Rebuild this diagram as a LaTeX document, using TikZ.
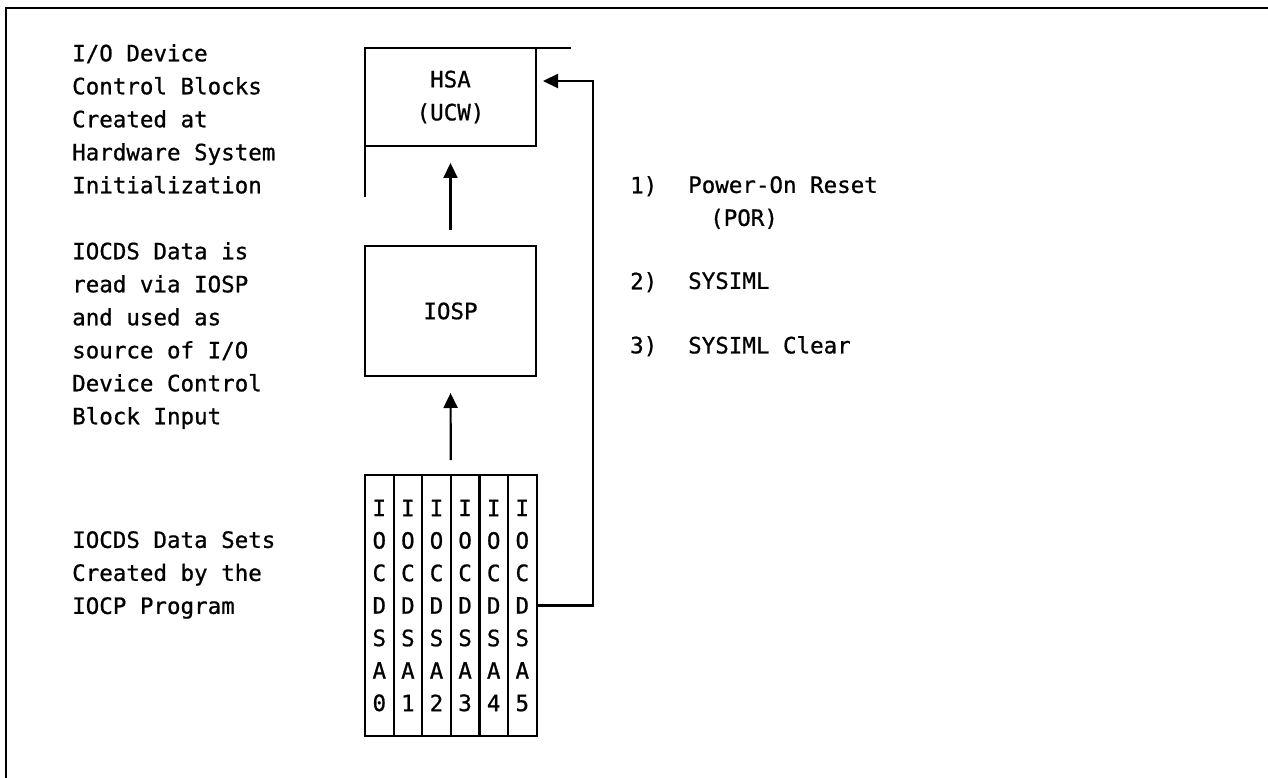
\documentclass[tikz,border=0pt]{standalone}
\usepackage{fontspec}
\newfontfamily\ibmfont[FakeBold=0.8]{DejaVu Sans Mono}
\usetikzlibrary{arrows.meta,calc}

\begin{document}
\begin{tikzpicture}[x=1pt, y=-1pt,
    every node/.style={font=\ibmfont\fontsize{22.5}{33}\selectfont},
    txt/.style={anchor=north west, inner sep=0pt, align=left},
    unitbox/.style={rectangle, draw, line width=2.2pt, minimum width=171pt,
                 inner sep=0pt, outer sep=0pt, align=center},
    dsbox/.style={rectangle, draw, line width=2.2pt, minimum width=28.6pt,
                 minimum height=261pt, inner sep=0pt, outer sep=0pt, align=center,
                 font=\ibmfont\fontsize{22.5}{32.5}\selectfont},
    thinline/.style={line width=2.2pt},
    arr/.style={-{Triangle[length=15pt,width=14pt]}, line width=2.2pt}
]
\fill[white] (0,0) rectangle (1268,778);
\useasboundingbox (0,0) rectangle (1268,778);
\draw[line width=2.6pt] (6,778) -- (6,8) -- (1268,8);

\node[unitbox, minimum height=98pt]  (hsa)  at (450.5,97)  {HSA\\(UCW)};
\node[unitbox, minimum height=130pt] (iosp) at (450.5,311) {IOSP};
\foreach \i in {0,...,5}
    \node[dsbox] (ds\i) at ({379.3+28.6*\i},605.5) {I\\O\\C\\D\\S\\A\\\i};

\coordinate (hsatop)  at (571,48);
\coordinate (hsaleft) at (365,197);
\draw[thinline] (hsa.north east) -- (hsatop);
\draw[thinline] (hsa.south west) -- (hsaleft);

\draw[arr, shorten <=16pt, shorten >=17pt] (iosp.north) -- (hsa.south);
\draw[arr, shorten <=15pt, shorten >=17pt] (ds2.north east) -- (iosp.south);
\draw[arr, shorten >=7pt] (ds5.east) -- ++(56,0) |- ([yshift=16pt]hsa.east);

\node[txt] (blocks)   at (72,44)  {I/O Device\\Control Blocks\\Created at\\Hardware System\\Initialization};
\node[txt] (readvia)  at (72,242) {IOCDS Data is\\read via IOSP\\and used as\\source of I/O\\Device Control\\Block Input};
\node[txt] (datasets) at (72,531) {IOCDS Data Sets\\Created by the\\IOCP Program};

\node[txt] (n1) at (630,176) {1)};
\node[txt] (t1) at (688,176) {Power-On Reset\\\hspace*{22pt}(POR)};
\node[txt] (n2) at (630,272) {2)};
\node[txt] (t2) at (688,272) {SYSIML};
\node[txt] (n3) at (630,336) {3)};
\node[txt] (t3) at (688,336) {SYSIML Clear};
\end{tikzpicture}
\end{document}
